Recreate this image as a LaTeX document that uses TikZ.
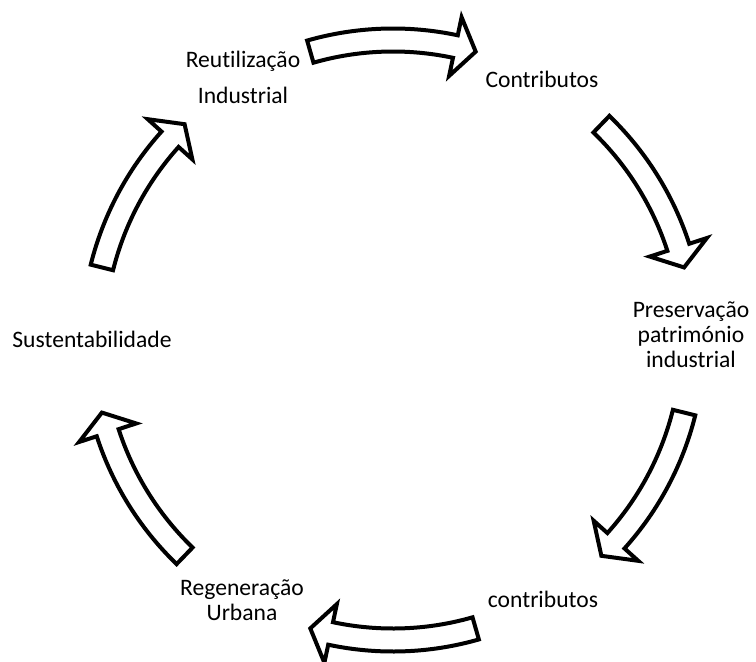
\documentclass[tikz,border=0pt]{standalone}
\usepackage{fontspec}
\setmainfont{Carlito}[Ligatures=NoCommon]
\usepackage{tikz}
\usetikzlibrary{positioning}
\tikzset{
  steplabel/.style={align=center,inner sep=0pt,anchor=base,
                    font=\fontsize{11.8}{12.3}\selectfont},
  blockarrow/.style={draw=black,fill=white,line width=2pt},
}

\begin{document}
\begin{tikzpicture}[x=0.5pt,y=0.5pt]
  \useasboundingbox (-393,-321) rectangle (363,340);
  \coordinate (hub) at (0,0);

  % the six steps round the cycle (base = last line)
  \node[steplabel] (reutLabel) at (-150,237)
      {Reutiliza\c{c}\~ao\\[5.7pt]Industrial};
  \node[steplabel] (contribTopLabel) at (149,253) {Contributos};
  \node[steplabel] (presLabel) at (298,-27)
      {Preserva\c{c}\~ao\\patrim\'onio\\industrial};
  \node[steplabel] (contribBotLabel) at (150,-267) {contributos};
  \node[steplabel] (regenLabel) at (-151,-280)
      {Regenera\c{c}\~ao\\Urbana};
  \node[steplabel] (sustLabel) at (-301,-7) {Sustentabilidade};

  % curved block arrows between the steps
  \foreach \c [evaluate=\c as \s using \c+16,
               evaluate=\c as \b using \c-12,
               evaluate=\c as \t using \c-16] in {90,30,-30,-90,-150,150} {
    \draw[blockarrow] ([shift={(\s:311.5)}]hub)
        arc[start angle=\s, end angle=\b, radius=311.5]
        -- ([shift={(\b:330)}]hub) -- ([shift={(\t:300)}]hub)
        -- ([shift={(\b:270)}]hub) -- ([shift={(\b:288.5)}]hub)
        arc[start angle=\b, end angle=\s, radius=288.5] -- cycle;
  }
\end{tikzpicture}
\end{document}
